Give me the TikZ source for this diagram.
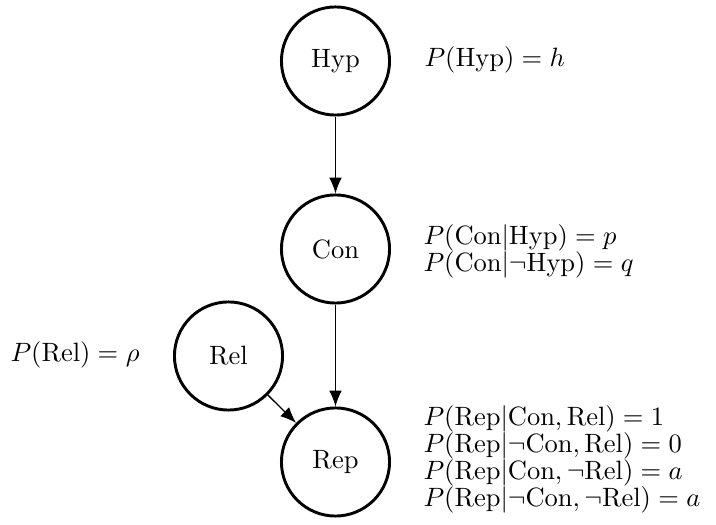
\documentclass[tikz,border=0pt]{standalone}
\usetikzlibrary{arrows.meta}
\begin{document}
\begin{tikzpicture}[x=0.3774pt,y=-0.3774pt,
  var/.style={draw,circle,line width=1.1pt,minimum size=40.8pt,inner sep=0pt},
  edge/.style={line width=0.5pt,-{Latex[length=6pt,width=4.8pt]}},
  lbl/.style={anchor=west,inner sep=0pt,align=left,font=\fontsize{10}{10.2}\selectfont}]
\useasboundingbox (0,0) rectangle (716,525);
\node[var] (hyp) at (335.5,61) {Hyp};
\node[var] (con) at (335.5,249) {Con};
\node[var] (rel) at (228.5,356) {Rel};
\node[var] (rep) at (335.5,462) {Rep};
\draw[edge] (hyp) -- (con);
\draw[edge] (con) -- (rep);
\draw[edge] (rel) -- (rep);
\node[lbl] (lhyp) at (424,60) {$P(\mathrm{Hyp}) = h$};
\node[lbl] (lcon) at (423,251.5) {$P(\mathrm{Con} | \mathrm{Hyp}) = p$\\ $P(\mathrm{Con} | \neg\mathrm{Hyp}) = q$};
\node[lbl] (lrel) at (10,355) {$P(\mathrm{Rel}) = \rho$};
\node[lbl] (lrep) at (423,459) {$P(\mathrm{Rep} | \mathrm{Con}, \mathrm{Rel}) = 1$\\ $P(\mathrm{Rep} | \neg\mathrm{Con}, \mathrm{Rel}) = 0$\\ $P(\mathrm{Rep} | \mathrm{Con}, \neg\mathrm{Rel}) = a$\\ $P(\mathrm{Rep} | \neg\mathrm{Con}, \neg\mathrm{Rel}) = a$};
\end{tikzpicture}
\end{document}
